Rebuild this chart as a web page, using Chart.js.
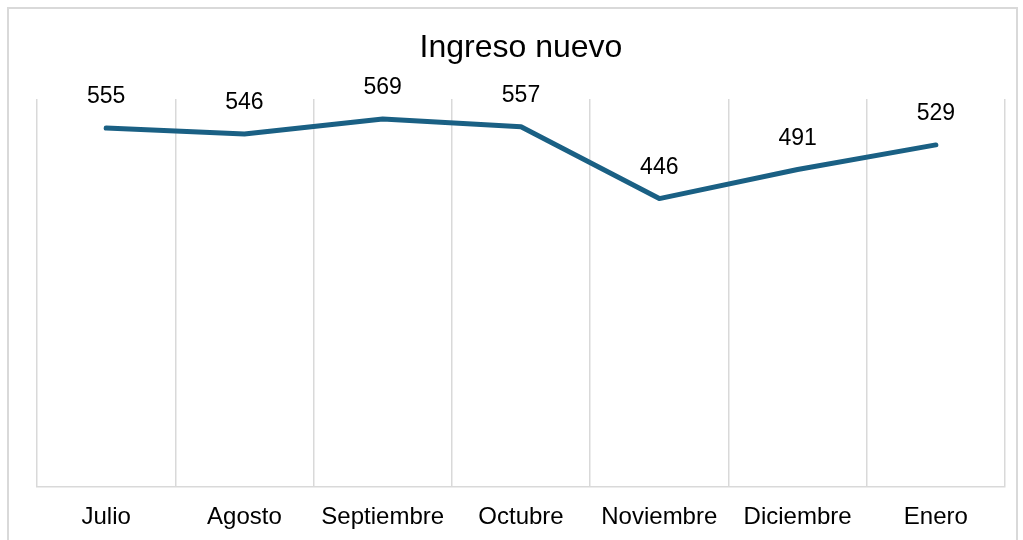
<!DOCTYPE html>
<html>
<head>
<meta charset="utf-8">
<script src="https://cdn.jsdelivr.net/npm/chart.js@4/dist/chart.umd.min.js"></script>
<style>
html,body{margin:0;padding:0;background:#fff;}
#wrap{position:relative;width:1023px;height:540px;}
</style>
</head>
<body>
<div id="wrap"><canvas id="c" width="1023" height="540"></canvas></div>
<script>
const categories = ["Julio", "Agosto", "Septiembre", "Octubre", "Noviembre", "Diciembre", "Enero"];
const values = [555, 546, 569, 557, 446, 491, 529];
const chartTitle = "Ingreso nuevo";

const FONT = "'Liberation Sans', Arial, sans-serif";

const framePlugin = {
  id: 'frame',
  beforeDraw(chart) {
    const ctx = chart.ctx;
    ctx.save();
    ctx.fillStyle = '#ffffff';
    ctx.fillRect(0, 0, chart.width, chart.height);
    ctx.strokeStyle = '#d9d9d9';
    ctx.lineWidth = 2;
    ctx.strokeRect(8, 8, 1009, 600);
    ctx.restore();
  },
  afterDraw(chart) {
    const ctx = chart.ctx;
    ctx.save();
    ctx.fillStyle = '#000000';
    ctx.font = '32px ' + FONT;
    ctx.textAlign = 'center';
    ctx.textBaseline = 'middle';
    const ca = chart.chartArea;
    ctx.fillText(chartTitle, (ca.left + ca.right) / 2, 48);
    // data labels
    ctx.font = '23px ' + FONT;
    const meta = chart.getDatasetMeta(0);
    meta.data.forEach((pt, i) => {
      ctx.fillText(String(chart.data.datasets[0].data[i]), pt.x, pt.y - 31);
    });
    ctx.restore();
  }
};

new Chart(document.getElementById('c'), {
  type: 'line',
  data: {
    labels: categories,
    datasets: [{
      data: values,
      borderColor: '#1a6084',
      borderWidth: 5,
      borderCapStyle: 'round',
      borderJoinStyle: 'round',
      pointRadius: 0,
      tension: 0,
      fill: false
    }]
  },
  options: {
    responsive: false,
    animation: false,
    devicePixelRatio: 1,
    layout: { padding: { left: 37, right: 18, top: 99, bottom: 0 } },
    plugins: { legend: { display: false }, title: { display: false }, tooltip: { enabled: false } },
    scales: {
      x: {
        offset: true,
        grid: { display: true, offset: true, color: '#d9d9d9', lineWidth: 1.5, drawTicks: false },
        border: { display: true, color: '#d9d9d9', width: 1.5 },
        ticks: { color: '#000000', font: { family: FONT, size: 24 }, padding: 16, maxRotation: 0, autoSkip: false },
        afterFit(scale) { scale.height = 53; }
      },
      y: {
        display: false,
        min: 0,
        max: 600
      }
    }
  },
  plugins: [framePlugin]
});
</script>
</body>
</html>
